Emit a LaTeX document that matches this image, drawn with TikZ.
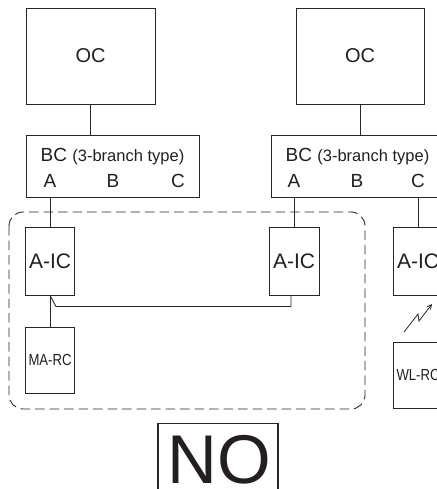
\documentclass[tikz,border=0pt]{standalone}
\usepackage{fontspec}
\setmainfont{Liberation Sans}
\usetikzlibrary{arrows.meta}
\definecolor{ln}{HTML}{262626}
\definecolor{tx}{HTML}{231F20}
\begin{document}
\begin{tikzpicture}[x=1pt,y=1pt,
  box/.style={draw=ln,line width=0.9pt,rectangle,inner sep=0pt,text=tx},
  lbl/.style={inner sep=0pt,text=tx,font=\fontsize{19}{19}\selectfont},
  con/.style={draw=ln,line width=0.9pt}]
\useasboundingbox (0,0) rectangle (436,-489);
\fill[white] (0,0) rectangle (436,-489);
% boxes
\node[box,minimum width=129,minimum height=96,font=\fontsize{20}{20}\selectfont] (oc1) at (90.5,-56) {OC};
\node[box,minimum width=128,minimum height=96,font=\fontsize{20}{20}\selectfont] (oc2) at (360,-56) {OC};
\node[box,minimum width=173,minimum height=62] (bc1) at (112.5,-166) {};
\node[box,minimum width=173,minimum height=62] (bc2) at (357.5,-166) {};
% BC labels
\node[lbl,anchor=base] (t1) at (112.5,-161.5) {\fontsize{19}{19}\selectfont BC \fontsize{16.5}{16.5}\selectfont(3-branch type)};
\node[lbl,anchor=base] (t2) at (357.5,-161.5) {\fontsize{19}{19}\selectfont BC \fontsize{16.5}{16.5}\selectfont(3-branch type)};
\node[lbl,anchor=base] (a1) at (50,-187) {A};
\node[lbl,anchor=base] (b1) at (113,-187) {B};
\node[lbl,anchor=base] (c1) at (178,-187) {C};
\node[lbl,anchor=base] (a2) at (294,-187) {A};
\node[lbl,anchor=base] (b2) at (357,-187) {B};
\node[lbl,anchor=base] (c2) at (418,-187) {C};
% dashed group
\draw[draw=ln,line width=0.9pt,dash pattern=on 9.5pt off 5pt,rounded corners=14pt] (9,-212) rectangle (365,-409);
% indoor units
\node[box,minimum width=49,minimum height=68,font=\fontsize{21}{21}\selectfont] (aic1) at (50,-261) {A-IC};
\node[box,minimum width=50,minimum height=68,font=\fontsize{21}{21}\selectfont] (aic2) at (294,-261) {A-IC};
\node[box,minimum width=50,minimum height=68,font=\fontsize{21}{21}\selectfont] (aic3) at (418,-261) {A-IC};
\node[box,minimum width=49,minimum height=66] (marc) at (50,-360) {\scalebox{0.82}[1]{\fontsize{16}{16}\selectfont MA-RC}};
\node[box,minimum width=50,minimum height=66] (wlrc) at (418,-375) {\scalebox{0.82}[1]{\fontsize{16}{16}\selectfont WL-RC}};
% NO
\node[draw=ln,line width=1.1pt,rectangle,inner sep=0pt,minimum width=120,minimum height=80,anchor=north,text=tx] (no) at (218,-423) {};
\node[inner sep=0pt,anchor=base,text=tx,font=\fontsize{69}{69}\selectfont] (notext) at (219,-483) {NO};
% connectors
\draw[con] (oc1.south) -- (oc1.south |- bc1.north);
\draw[con] (oc2.south) -- (oc2.south |- bc2.north);
\draw[con] (a1 |- bc1.south) -- (aic1.north);
\draw[con] (a2 |- bc2.south) -- (aic2.north);
\draw[con] (c2 |- bc2.south) -- (aic3.north);
\draw[con] (aic1.south) -- (marc.north);
\coordinate (k1) at ([shift={(6,-11)}]aic1.south);
\coordinate (k2) at ([xshift=-3]aic2.south);
\draw[con] (aic1.south) -- (k1) -| (k2);
% wireless symbol
\coordinate (w1) at (404,-332);
\coordinate (w2) at (418,-314);
\coordinate (w3) at (419,-321);
\coordinate (w4) at (432,-304);
\draw[draw=ln,line width=0.8pt,-{Straight Barb[length=4.5pt,width=4.5pt]}] (w1) -- (w2) -- (w3) -- (w4);
\end{tikzpicture}
\end{document}
